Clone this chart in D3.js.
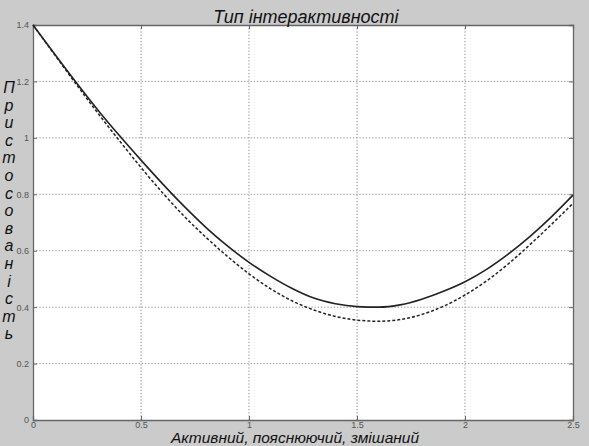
<!DOCTYPE html>
<html>
<head>
<meta charset="utf-8">
<script src="https://cdn.jsdelivr.net/npm/d3@7"></script>
<style>
  body { margin: 0; background: #cbcbcb; }
  svg { display: block; }
</style>
</head>
<body>
<div id="chart"></div>
<script>
// values
var xValues = [0, 0.1, 0.2, 0.3, 0.4, 0.5, 0.6, 0.7, 0.8, 0.9, 1.0, 1.1, 1.2, 1.3, 1.4, 1.5, 1.6, 1.7, 1.8, 1.9, 2.0, 2.1, 2.2, 2.3, 2.4, 2.5];
var solidValues = [1.4, 1.297, 1.196, 1.099, 1.008, 0.921, 0.837, 0.757, 0.683, 0.617, 0.559, 0.509, 0.466, 0.432, 0.412, 0.402, 0.4, 0.408, 0.428, 0.456, 0.49, 0.534, 0.588, 0.65, 0.72, 0.797];
var dashedValues = [1.4, 1.295, 1.19, 1.088, 0.99, 0.895, 0.805, 0.722, 0.648, 0.58, 0.518, 0.465, 0.422, 0.39, 0.367, 0.354, 0.35, 0.356, 0.374, 0.403, 0.443, 0.493, 0.553, 0.621, 0.693, 0.768];
var xTicks = [0, 0.5, 1, 1.5, 2, 2.5];
var yTicks = [0, 0.2, 0.4, 0.6, 0.8, 1, 1.2, 1.4];
var title = "Тип інтерактивності";
var xLabel = "Активний, пояснюючий, змішаний";
var yLabel = "Пристосованість";

var width = 589;
var height = 446;
var margin = {top: 25, right: 16, bottom: 26, left: 33};
var w = width - margin.left - margin.right;
var h = height - margin.top - margin.bottom;

var svg = d3.select("#chart")
	.append("svg")
		.attr("width", width)
		.attr("height", height)
		.style("font-family", "'Liberation Sans', Arial, sans-serif");

svg.append("rect")
	.attr("width", width)
	.attr("height", height)
	.attr("fill", "#cbcbcb");

var g = svg.append("g")
	.attr("transform", "translate(" + margin.left + "," + margin.top + ")");

var x = d3.scaleLinear().domain([0, 2.5]).range([0, w]);
var y = d3.scaleLinear().domain([0, 1.4]).range([h, 0]);

g.append("rect")
	.attr("width", w)
	.attr("height", h)
	.attr("fill", "#fff");

// dotted grid
g.selectAll(".vgrid")
	.data(xTicks.slice(1, -1))
	.enter()
	.append("line")
		.attr("x1", function(d) { return x(d); })
		.attr("x2", function(d) { return x(d); })
		.attr("y1", 0)
		.attr("y2", h)
		.attr("stroke", "#8a8a8a")
		.attr("stroke-dasharray", "1.2,2");
g.selectAll(".hgrid")
	.data(yTicks.slice(1, -1))
	.enter()
	.append("line")
		.attr("x1", 0)
		.attr("x2", w)
		.attr("y1", function(d) { return y(d); })
		.attr("y2", function(d) { return y(d); })
		.attr("stroke", "#8a8a8a")
		.attr("stroke-dasharray", "1.2,2");

// axes with inward ticks
var xAxis = g.append("g")
	.attr("transform", "translate(0," + h + ")")
	.call(d3.axisBottom(x).tickValues(xTicks).tickSize(-4).tickPadding(2).tickFormat(d3.format("")));
var xAxisTop = g.append("g")
	.call(d3.axisTop(x).tickValues(xTicks).tickSize(-4).tickFormat(""));
var yAxis = g.append("g")
	.call(d3.axisLeft(y).tickValues(yTicks).tickSize(-4).tickPadding(4).tickFormat(d3.format("")));
var yAxisRight = g.append("g")
	.attr("transform", "translate(" + w + ",0)")
	.call(d3.axisRight(y).tickValues(yTicks).tickSize(-4).tickFormat(""));

[xAxis, xAxisTop, yAxis, yAxisRight].forEach(function(a) {
	a.select(".domain").attr("stroke", "#666").attr("stroke-width", 1.3);
	a.selectAll(".tick line").attr("stroke", "#666");
	a.selectAll("text")
		.attr("fill", "#555")
		.style("font-size", "9px")
		.style("font-family", "'Liberation Sans', Arial, sans-serif");
});

// curves
var line = d3.line()
	.x(function(d) { return x(d[0]); })
	.y(function(d) { return y(d[1]); })
	.curve(d3.curveMonotoneX);

g.append("path")
	.datum(xValues.map(function(v, i) { return [v, dashedValues[i]]; }))
	.attr("d", line)
	.attr("fill", "none")
	.attr("stroke", "#222")
	.attr("stroke-width", 1.5)
	.attr("stroke-dasharray", "3,2");

g.append("path")
	.datum(xValues.map(function(v, i) { return [v, solidValues[i]]; }))
	.attr("d", line)
	.attr("fill", "none")
	.attr("stroke", "#222")
	.attr("stroke-width", 1.6);

// labels
svg.append("text")
	.attr("x", 306)
	.attr("y", 23)
	.attr("text-anchor", "middle")
	.style("font-size", "18px")
	.style("font-style", "italic")
	.attr("fill", "#111")
	.text(title);

svg.append("text")
	.attr("x", 295)
	.attr("y", 443)
	.attr("text-anchor", "middle")
	.style("font-size", "15.5px")
	.style("font-style", "italic")
	.attr("fill", "#111")
	.text(xLabel);

svg.selectAll(".ylab")
	.data(yLabel.split(""))
	.enter()
	.append("text")
		.attr("x", 9)
		.attr("y", function(d, i) { return 93 + i * 17.6; })
		.attr("text-anchor", "middle")
		.style("font-size", "16px")
		.style("font-style", "italic")
		.attr("fill", "#111")
		.text(function(d) { return d; });
</script>
</body>
</html>
